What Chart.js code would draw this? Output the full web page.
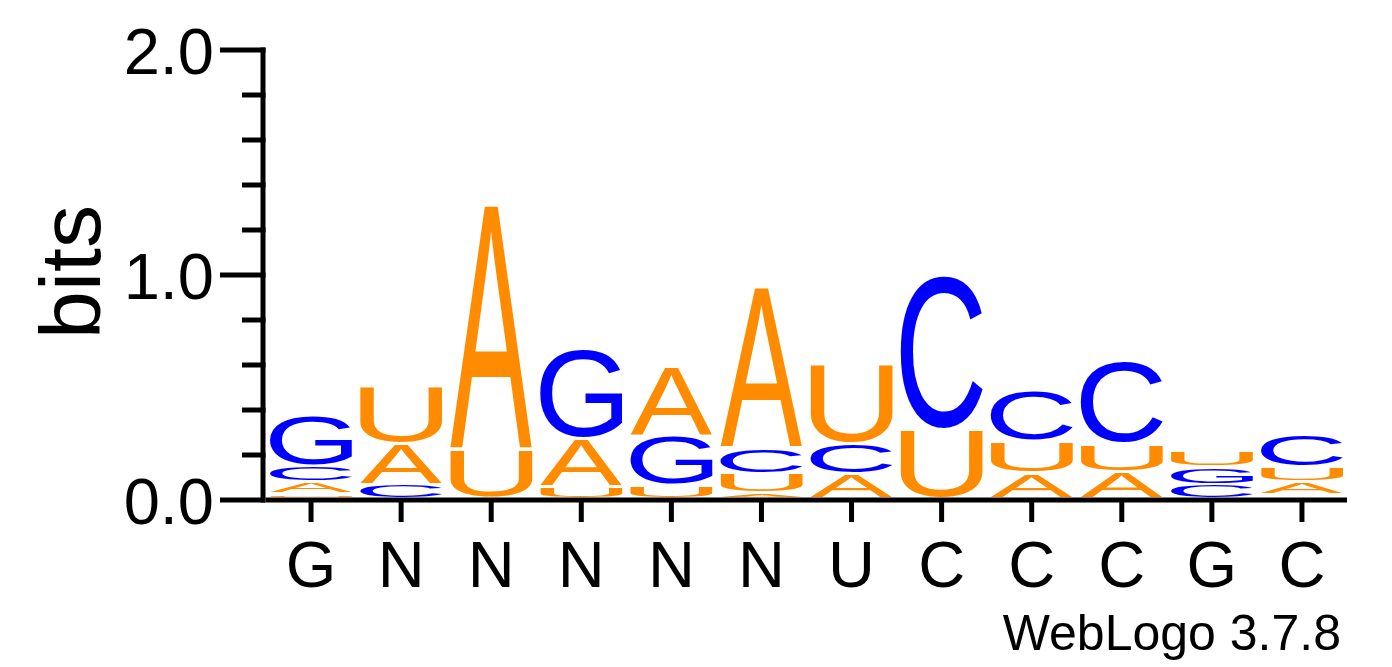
<!DOCTYPE html>
<html>
<head>
<meta charset="utf-8">
<script src="https://cdn.jsdelivr.net/npm/chart.js@4.4.1/dist/chart.umd.min.js"></script>
<style>
  html, body { margin: 0; padding: 0; background: #fff; }
  #logo { display: block; }
</style>
</head>
<body>
<canvas id="logo" width="1392" height="667"></canvas>
<script>
// consensus labels under each column
const positionLabels = ['G', 'N', 'N', 'N', 'N', 'N', 'U', 'C', 'C', 'C', 'G', 'C'];

// letters of each stack, bottom to top
const stackLetters = [
    ['U', 'A', 'C', 'G'],
    ['C', 'A', 'U'],
    ['U', 'A'],
    ['U', 'A', 'G'],
    ['U', 'G', 'A'],
    ['A', 'U', 'C', 'A'],
    ['A', 'C', 'U'],
    ['U', 'C'],
    ['A', 'U', 'C'],
    ['A', 'U', 'C'],
    ['C', 'G', 'U'],
    ['G', 'A', 'U', 'C']
];

// height in bits of each letter, same order
const stackBits = [
    [0.025, 0.053, 0.071, 0.231],
    [0.067, 0.182, 0.253],
    [0.218, 1.093],
    [0.058, 0.213, 0.400],
    [0.062, 0.222, 0.311],
    [0.030, 0.086, 0.111, 0.716],
    [0.116, 0.133, 0.356],
    [0.311, 0.689],
    [0.116, 0.142, 0.227],
    [0.124, 0.124, 0.369],
    [0.067, 0.080, 0.071],
    [0.020, 0.060, 0.067, 0.147]
];

const yTicks = [0, 0.2, 0.4, 0.6, 0.8, 1.0, 1.2, 1.4, 1.6, 1.8, 2.0];
const yLabels = ['0.0', '1.0', '2.0'];

const letterColors = { A: '#ff8c00', U: '#ff8c00', C: '#0000ff', G: '#0000ff' };
const FONT = '"Liberation Sans", Arial, Helvetica, sans-serif';

var layers = Math.max.apply(null, stackBits.map(function(s) { return s.length; }));
var datasets = [];
for (var k = 0; k < layers; k++) {
    datasets.push({
        label: 'layer ' + k,
        data: stackBits.map(function(s) { return s[k] || 0; }),
        letters: stackLetters.map(function(s) { return s[k] || null; }),
        backgroundColor: 'rgba(0,0,0,0)',
        borderWidth: 0,
        categoryPercentage: 1.0,
        barPercentage: 0.91
    });
}

// draw one glyph stretched so its ink fills the box
function drawGlyph(ctx, ch, left, top, w, h) {
    if (h < 1 || w < 1) return;
    ctx.save();
    ctx.font = '400 200px ' + FONT;
    ctx.textAlign = 'left';
    ctx.textBaseline = 'alphabetic';
    var m = ctx.measureText(ch);
    var inkW = m.actualBoundingBoxLeft + m.actualBoundingBoxRight;
    var inkH = m.actualBoundingBoxAscent + m.actualBoundingBoxDescent;
    ctx.translate(left, top);
    ctx.scale(w / inkW, h / inkH);
    ctx.fillStyle = letterColors[ch] || '#000';
    ctx.fillText(ch, m.actualBoundingBoxLeft, m.actualBoundingBoxAscent);
    ctx.restore();
}

var letterPlugin = {
    id: 'letters',
    afterDatasetsDraw: function(chart) {
        var ctx = chart.ctx;
        chart.data.datasets.forEach(function(ds, di) {
            var meta = chart.getDatasetMeta(di);
            meta.data.forEach(function(el, i) {
                var ch = ds.letters[i];
                if (!ch || !ds.data[i]) return;
                var p = el.getProps(['x', 'y', 'base', 'width'], true);
                var top = p.y + 1;
                var bottom = p.base - (di === 0 ? 3 : 2);
                drawGlyph(ctx, ch, p.x - p.width / 2, top, p.width, bottom - top);
            });
        });
    }
};

var axisPlugin = {
    id: 'logoAxes',
    afterDraw: function(chart) {
        var ctx = chart.ctx;
        var xs = chart.scales.x, ys = chart.scales.y;
        var area = chart.chartArea;
        var axisX = area.left - 3;
        var y0 = ys.getPixelForValue(0);
        ctx.save();
        ctx.strokeStyle = '#000';
        ctx.fillStyle = '#000';
        ctx.lineWidth = 5;
        ctx.lineCap = 'butt';

        // y axis line
        ctx.beginPath();
        ctx.moveTo(axisX, ys.getPixelForValue(2) - 2.5);
        ctx.lineTo(axisX, y0 + 2.5);
        ctx.stroke();

        // y ticks
        yTicks.forEach(function(v) {
            var py = ys.getPixelForValue(v);
            var major = Math.abs(v - Math.round(v)) < 1e-6;
            ctx.beginPath();
            ctx.moveTo(axisX - (major ? 43 : 21), py);
            ctx.lineTo(axisX + 2.5, py);
            ctx.stroke();
        });

        ctx.font = '400 65px ' + FONT;
        ctx.textAlign = 'right';
        ctx.textBaseline = 'alphabetic';
        yLabels.forEach(function(t) {
            var py = ys.getPixelForValue(parseFloat(t));
            ctx.fillText(t, 214, py + 23.5);
        });

        // x axis line
        ctx.beginPath();
        ctx.moveTo(area.left, y0);
        ctx.lineTo(area.right, y0);
        ctx.stroke();

        // x ticks and labels
        ctx.textAlign = 'center';
        positionLabels.forEach(function(lab, i) {
            var px = xs.getPixelForValue(i);
            ctx.beginPath();
            ctx.moveTo(px, y0);
            ctx.lineTo(px, y0 + 22);
            ctx.stroke();
            ctx.fillText(lab, px, 587);
        });

        // axis title
        ctx.save();
        ctx.font = '400 86px ' + FONT;
        ctx.translate(100, 272);
        ctx.rotate(-Math.PI / 2);
        ctx.textAlign = 'center';
        ctx.fillText('bits', 0, 0);
        ctx.restore();

        // credit line
        ctx.font = '400 50px ' + FONT;
        ctx.textAlign = 'right';
        ctx.fillText('WebLogo 3.7.8', 1341, 650);
        ctx.restore();
    }
};

var ctx = document.getElementById('logo').getContext('2d');
var chart = new Chart(ctx, {
    type: 'bar',
    data: {
        labels: positionLabels,
        datasets: datasets
    },
    options: {
        responsive: false,
        animation: false,
        devicePixelRatio: 1,
        layout: {
            padding: { left: 266, right: 45, top: 50, bottom: 167 }
        },
        plugins: {
            legend: { display: false },
            tooltip: { enabled: false }
        },
        scales: {
            x: { display: false, stacked: true, offset: true },
            y: { display: false, stacked: true, min: 0, max: 2 }
        }
    },
    plugins: [letterPlugin, axisPlugin]
});
</script>
</body>
</html>
